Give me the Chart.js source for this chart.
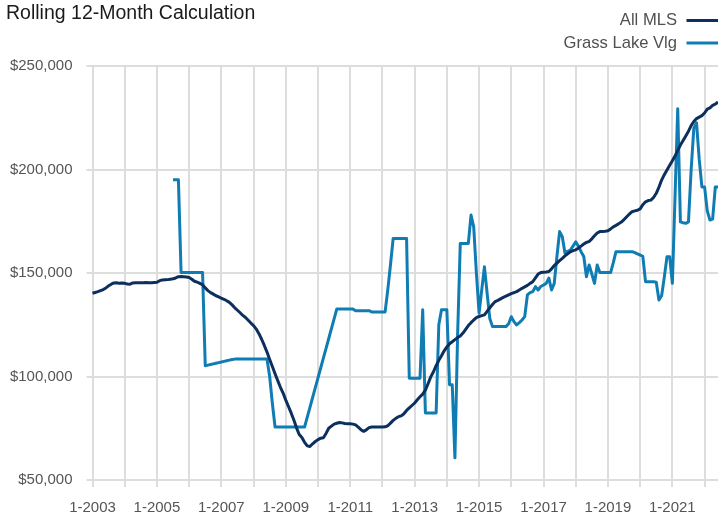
<!DOCTYPE html>
<html>
<head>
<meta charset="utf-8">
<script src="https://cdn.jsdelivr.net/npm/chart.js@4/dist/chart.umd.min.js"></script>
<style>
  html, body { margin: 0; padding: 0; background: #ffffff; }
  #wrap { width: 718px; height: 515px; position: relative; }
</style>
</head>
<body>
<div id="wrap"><canvas id="c" width="718" height="515"></canvas></div>
<script>
// ---------- data ----------
const chartTitle = 'Rolling 12-Month Calculation';
const years = [2003, 2004, 2005, 2006, 2007, 2008, 2009, 2010, 2011, 2012, 2013, 2014, 2015, 2016, 2017, 2018, 2019, 2020, 2021, 2022];
const lastYearMonths = 6; // Jan..Jun 2022
const xTickLabels = ['1-2003', '1-2005', '1-2007', '1-2009', '1-2011', '1-2013', '1-2015', '1-2017', '1-2019', '1-2021'];
const yTickValues = [50000, 100000, 150000, 200000, 250000];
const seriesNames = ['All MLS', 'Grass Lake Vlg'];

// All MLS, monthly from 1-2003
const allMLS = [
  140200,140600,141000,141500,142000,142800,143800,144600,145200,145300,145000,145200,
  145000,144700,144600,145200,145300,145300,145300,145300,145400,145300,145300,145400,
  145500,146300,146600,146700,146800,147000,147200,147600,148200,148300,148200,148100,
  147800,147000,146000,145600,145000,144300,142800,141500,140500,139800,139000,138500,
  137800,137300,136600,135800,134600,133200,132000,130800,129500,128500,127200,125800,
  124600,122900,120700,118000,115000,111800,108200,104800,101300,98000,94800,92000,
  88600,85500,82400,79000,75200,72000,70500,68200,66500,66200,67500,68600,
  69500,70200,70400,72500,75000,76000,77000,77400,77800,77600,77300,77200,
  77200,77000,76600,75500,74300,73500,74200,75300,75600,75600,75600,75600,
  75600,75700,76200,77500,78800,79800,80600,81000,82000,83600,84800,86000,
  87200,88800,90200,91500,93400,96500,99800,102300,105200,107800,110000,112400,
  114300,115800,116800,117800,118800,119600,121000,122800,124600,126000,127300,128400,
  129000,129400,129800,131500,133200,134800,136200,136800,137500,138200,138800,139400,
  140000,140500,141000,141800,142600,143300,144000,145000,145800,147600,149500,150200,
  150400,150500,150700,152000,153600,154800,156000,157100,158300,159300,160200,160800,
  161200,162000,163000,164000,164800,165200,166500,168000,169300,170000,170100,170200,
  170400,171300,172300,173000,173800,174600,175800,177200,178500,179600,180000,180300,
  181000,183000,184400,185000,185200,186500,188500,191500,194900,197500,199800,202000,
  204200,206500,209200,211800,214000,216200,218500,221200,223200,224600,225300,226000,
  227300,229200,229800,231000,231600,232600
];

// Grass Lake Vlg, monthly from 1-2003 (no data before 7-2005)
const grassLakeVlg = [
  null,null,null,null,null,null,null,null,null,null,null,null,
  null,null,null,null,null,null,null,null,null,null,null,null,
  null,null,null,null,null,null,195000,195000,195000,150200,150200,150200,
  150200,150200,150200,150200,150200,150200,105200,105500,105800,106100,106400,106700,
  107000,107300,107600,107900,108200,108400,108400,108400,108400,108400,108400,108400,
  108400,108400,108400,108400,108400,108400,100000,87000,75600,75600,75600,75600,
  75600,75600,75600,75600,75600,75600,75600,75600,80350,85100,89850,94600,
  99350,104100,108850,113600,118350,123100,127850,132600,132600,132600,132600,132600,
  132600,132600,131800,131800,131800,131800,131800,131800,131200,131200,131200,131200,
  131200,131200,142000,154000,166700,166700,166700,166700,166700,166700,99200,99200,
  99200,99200,99200,132200,82400,82400,82400,82400,82400,125000,132200,132200,
  132200,96000,96000,60700,120000,164300,164300,164300,164300,178000,172300,150000,
  130600,142000,153000,140200,128000,124100,124100,124100,124100,124100,124100,125500,
  128900,126500,124900,126000,127300,128900,139400,140500,141000,143400,141800,143500,
  144200,145000,147500,141800,145000,158000,170000,167500,159500,160500,161100,163000,
  165100,163000,160300,158000,148200,153900,149500,145000,153900,150200,150200,150200,
  150200,150200,155000,160300,160300,160300,160300,160300,160300,160300,159800,159200,
  158700,158000,145800,145800,145800,145800,145500,137000,139000,148000,157900,157900,
  145000,187000,229400,174700,174300,174000,174700,200000,220000,222500,205000,191600,
  191600,180000,175600,176000,191600,191600
];

// ---------- categories (month labels) ----------
const months = [];
years.forEach(function (y, yi) {
  const n = (yi === years.length - 1) ? lastYearMonths : 12;
  for (let m = 1; m <= n; m++) months.push(m + '-' + y);
});

// ---------- styling ----------
const FONT = "'Liberation Sans', Arial, Helvetica, sans-serif";
const GRID = '#dddddd';
const TICK_COLOR = '#555555';
const colors = ['#0d2f5e', '#0f7db3'];

function isGridMonth(i) { return months[i] && months[i].indexOf('1-') === 0; }

const headerPlugin = {
  id: 'header',
  afterDraw(chart) {
    const ctx = chart.ctx;
    ctx.save();
    // title
    ctx.fillStyle = '#1a1a1a';
    ctx.font = '19.5px ' + FONT;
    ctx.textAlign = 'left';
    ctx.textBaseline = 'alphabetic';
    ctx.fillText(chartTitle, 6, 18.5);
    // legend (stacked, text right-aligned, line sample to its right)
    ctx.font = '16.6px ' + FONT;
    ctx.textAlign = 'right';
    ctx.textBaseline = 'middle';
    chart.data.datasets.forEach(function (ds, i) {
      const y = 20.5 + i * 22.5;
      ctx.fillStyle = '#505050';
      ctx.fillText(ds.label, 677, y);
      ctx.strokeStyle = ds.borderColor;
      ctx.lineWidth = 3;
      ctx.beginPath();
      ctx.moveTo(686.5, y);
      ctx.lineTo(718, y);
      ctx.stroke();
    });
    ctx.restore();
  }
};

new Chart(document.getElementById('c'), {
  type: 'line',
  data: {
    labels: months,
    datasets: [
      {
        label: seriesNames[0],
        data: allMLS,
        borderColor: colors[0],
        backgroundColor: colors[0],
        borderWidth: 3,
        pointRadius: 0,
        tension: 0,
        borderJoinStyle: 'round',
        order: 0
      },
      {
        label: seriesNames[1],
        data: grassLakeVlg,
        borderColor: colors[1],
        backgroundColor: colors[1],
        borderWidth: 3,
        pointRadius: 0,
        tension: 0,
        spanGaps: false,
        borderJoinStyle: 'round',
        order: 1
      }
    ]
  },
  options: {
    responsive: false,
    animation: false,
    events: [],
    layout: { padding: { top: 66, left: 0, right: 0, bottom: 0 } },
    plugins: {
      legend: { display: false },
      title: { display: false },
      tooltip: { enabled: false }
    },
    scales: {
      x: {
        type: 'category',
        offset: false,
        grid: {
          color: function (c) { return isGridMonth(c.index) ? GRID : 'rgba(0,0,0,0)'; },
          tickColor: function (c) { return isGridMonth(c.index) ? GRID : 'rgba(0,0,0,0)'; },
          lineWidth: 2,
          tickLength: 7,
          offset: false
        },
        border: { color: GRID, width: 2 },
        ticks: {
          autoSkip: false,
          maxRotation: 0,
          minRotation: 0,
          padding: 12,
          color: TICK_COLOR,
          font: { family: FONT, size: 15 },
          callback: function (v, i) {
            const l = months[i];
            return xTickLabels.indexOf(l) >= 0 ? l : '';
          }
        },
        afterFit: function (s) { s.height = 35; s.paddingLeft = 0; s.paddingRight = 0; }
      },
      y: {
        min: yTickValues[0],
        max: yTickValues[yTickValues.length - 1],
        afterBuildTicks: function (s) { s.ticks = yTickValues.map(function (v) { return { value: v }; }); },
        grid: { color: GRID, lineWidth: 2, tickLength: 6 },
        border: { color: GRID, width: 2 },
        ticks: {
          padding: 14,
          color: TICK_COLOR,
          font: { family: FONT, size: 15 },
          callback: function (v) { return '$' + Number(v).toLocaleString('en-US'); }
        },
        afterFit: function (s) { s.width = 92.5; s.paddingTop = 0; s.paddingBottom = 0; }
      }
    }
  },
  plugins: [headerPlugin]
});
</script>
</body>
</html>
